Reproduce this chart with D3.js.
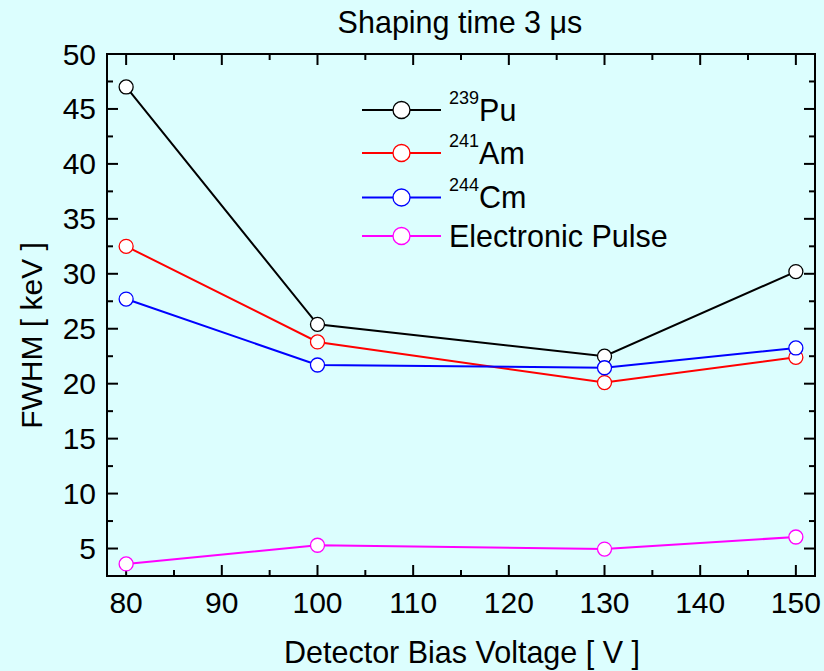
<!DOCTYPE html>
<html>
<head>
<meta charset="utf-8">
<script src="https://cdn.jsdelivr.net/npm/d3@7"></script>
<style>
  html, body { margin: 0; padding: 0; background: #dcfefe; }
  svg { display: block; }
  text { font-family: "Liberation Sans", Arial, sans-serif; fill: #000; }
</style>
</head>
<body>
<svg id="chart" width="824" height="671"></svg>
<script>
// Bias voltage (V) at which each spectrum was taken
const biasVoltage = [80, 100, 130, 150];

// FWHM in keV for each source
const pu239 = [47.0, 25.4, 22.5, 30.2];
const am241 = [32.5, 23.8, 20.1, 22.4];
const cm244 = [27.7, 21.7, 21.45, 23.25];
const pulser = [3.6, 5.3, 4.95, 6.05];

const xTicks = [80, 90, 100, 110, 120, 130, 140, 150];
const yTicks = [5, 10, 15, 20, 25, 30, 35, 40, 45, 50];

const seriesMass = ["239", "241", "244", null];
const seriesElem = ["Pu", "Am", "Cm", "Electronic Pulse"];
const seriesValues = [pu239, am241, cm244, pulser];
const seriesColors = ["#000000", "#ff0000", "#0000ff", "#ff00ff"];

const svg = d3.select("#chart");
const plot = { left: 107, top: 54, right: 815, bottom: 576 };

const x = d3.scaleLinear().domain([78, 152]).range([plot.left, plot.right]);
const y = d3.scaleLinear().domain([2.5, 50]).range([plot.bottom, plot.top]);

// Frame and ticks (all ticks point into the plot)
const majorLen = 11, minorLen = 6;
const xMinor = d3.range(80, 152, 5).filter(v => !xTicks.includes(v));
const yMinor = d3.range(2.5, 50, 2.5).filter(v => !yTicks.includes(v));

const axisG = svg.append("g").attr("stroke", "#000").attr("stroke-width", 2);

function tickLines(vals, len, side) {
  vals.forEach(v => {
    if (side === "bottom") axisG.append("line").attr("x1", x(v)).attr("x2", x(v)).attr("y1", plot.bottom).attr("y2", plot.bottom - len);
    if (side === "top") axisG.append("line").attr("x1", x(v)).attr("x2", x(v)).attr("y1", plot.top).attr("y2", plot.top + len);
    if (side === "left") axisG.append("line").attr("y1", y(v)).attr("y2", y(v)).attr("x1", plot.left).attr("x2", plot.left + len);
    if (side === "right") axisG.append("line").attr("y1", y(v)).attr("y2", y(v)).attr("x1", plot.right).attr("x2", plot.right - len);
  });
}
["bottom", "top"].forEach(s => { tickLines(xTicks, majorLen, s); tickLines(xMinor, minorLen, s); });
["left", "right"].forEach(s => { tickLines(yTicks, majorLen, s); tickLines(yMinor, minorLen, s); });

axisG.append("rect")
  .attr("x", plot.left).attr("y", plot.top)
  .attr("width", plot.right - plot.left).attr("height", plot.bottom - plot.top)
  .attr("fill", "none");

// Tick labels
svg.append("g").selectAll("text").data(xTicks).join("text")
  .attr("x", d => x(d)).attr("y", 613)
  .attr("text-anchor", "middle").attr("font-size", 30)
  .text(d => d);

svg.append("g").selectAll("text").data(yTicks).join("text")
  .attr("x", 96).attr("y", d => y(d) + 10.5)
  .attr("text-anchor", "end").attr("font-size", 30)
  .text(d => d);

// Titles
svg.append("text")
  .attr("x", 462).attr("y", 663).attr("text-anchor", "middle").attr("font-size", 30.5)
  .text("Detector Bias Voltage [ V ]");

svg.append("text")
  .attr("transform", "translate(42,335.5) rotate(-90)")
  .attr("text-anchor", "middle").attr("font-size", 30)
  .text("FWHM [ keV ]");

svg.append("text")
  .attr("x", 460).attr("y", 33).attr("text-anchor", "middle").attr("font-size", 30.5)
  .text("Shaping time 3 \u03bcs");

// Series: line then open circle markers
const line = d3.line().x((d, i) => x(biasVoltage[i])).y(d => y(d));
seriesValues.forEach((vals, k) => {
  const g = svg.append("g");
  g.append("path").attr("d", line(vals))
    .attr("fill", "none").attr("stroke", seriesColors[k]).attr("stroke-width", 2);
  g.selectAll("circle").data(vals).join("circle")
    .attr("cx", (d, i) => x(biasVoltage[i])).attr("cy", d => y(d))
    .attr("r", 7).attr("fill", "#fff")
    .attr("stroke", seriesColors[k]).attr("stroke-width", 1.3);
});

// Legend
const legendRows = [110, 153, 197.5, 236];
seriesValues.forEach((vals, k) => {
  const yy = legendRows[k];
  const g = svg.append("g");
  g.append("line").attr("x1", 362).attr("x2", 441).attr("y1", yy).attr("y2", yy)
    .attr("stroke", seriesColors[k]).attr("stroke-width", 2);
  g.append("circle").attr("cx", 401.5).attr("cy", yy).attr("r", 8.5)
    .attr("fill", "#fff").attr("stroke", seriesColors[k]).attr("stroke-width", 1.3);
  const t = g.append("text").attr("x", 449).attr("y", yy + 10.5).attr("font-size", 30.5);
  if (seriesMass[k]) {
    t.append("tspan").attr("font-size", 18).attr("dy", -17).text(seriesMass[k]);
    t.append("tspan").attr("dy", 17).text(seriesElem[k]);
  } else {
    t.text(seriesElem[k]);
  }
});
</script>
</body>
</html>
